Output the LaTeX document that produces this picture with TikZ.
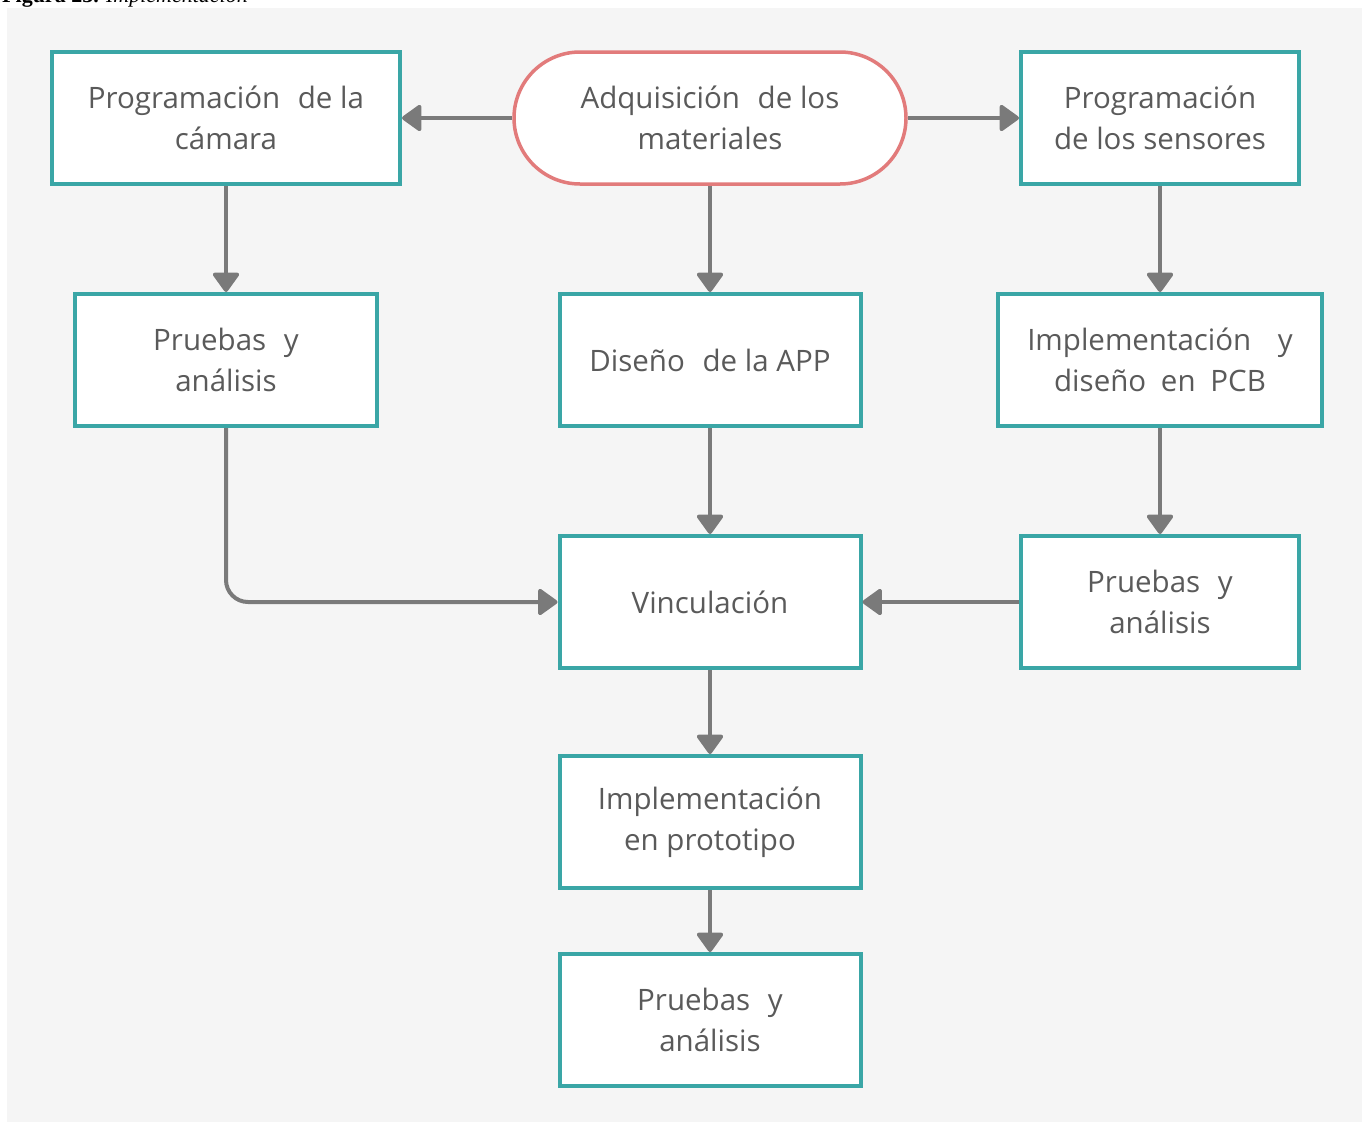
\documentclass[tikz,border=0pt]{standalone}
\usepackage{fontspec}
\setmainfont{Open Sans}
\newfontfamily\capfont{Liberation Serif}
\usetikzlibrary{arrows.meta,positioning,calc}
\definecolor{bgcol}{HTML}{F5F5F5}
\definecolor{teal}{HTML}{3AA6A6}
\definecolor{salmon}{HTML}{E27B7B}
\definecolor{arrowcol}{HTML}{7A7A7A}
\definecolor{txtcol}{HTML}{5A5A5A}
\tikzset{
  stepbox/.style={draw=teal, line width=4pt, fill=white, rectangle,
    minimum height=132pt, align=center, text=txtcol,
    font=\fontsize{29.5}{41}\selectfont, inner sep=0pt},
  startbox/.style={draw=salmon, line width=3.5pt, fill=white, rounded corners=66pt,
    minimum width=392pt, minimum height=132pt, align=center, text=txtcol,
    font=\fontsize{29.5}{41}\selectfont, inner sep=0pt},
  flow/.style={draw=arrowcol, line width=4pt,
    -{Triangle[length=21pt,width=29pt,round]}},
}
\begin{document}
\begin{tikzpicture}[x=1pt,y=-1pt]
\useasboundingbox (0,0) rectangle (1369,1125);
\fill[bgcol] (7,8) rectangle (1362,1122);
\node[anchor=base west, font=\capfont\fontsize{22}{26}\selectfont, inner sep=0pt] (cap) at (2,2) {\textbf{Figura 23.} \textit{Implementación}};
% nodes
\node[stepbox, minimum width=348pt] (A) at (226,118) {Programación\hspace{0.6em}de la\\cámara};
\node[startbox] (B) at (710,118) {Adquisición\hspace{0.6em}de los\\materiales};
\node[stepbox, minimum width=278pt] (C) at (1160,118) {Programación\\de los sensores};
\node[stepbox, minimum width=302pt] (D) at (226,360) {Pruebas\hspace{0.6em}y\\análisis};
\node[stepbox, minimum width=301pt] (E) at (710,360) {Diseño\hspace{0.6em}de la APP};
\node[stepbox, minimum width=324pt] (F) at (1160,360) {Implementación\hspace{0.9em}y\\diseño\hspace{0.5em}en\hspace{0.5em}PCB};
\node[stepbox, minimum width=301pt] (G) at (710,602) {Vinculación};
\node[stepbox, minimum width=278pt] (H) at (1160,602) {Pruebas\hspace{0.6em}y\\análisis};
\node[stepbox, minimum width=301pt] (I) at (710,822) {Implementación\\en prototipo};
\node[stepbox, minimum width=301pt] (J) at (710,1020) {Pruebas\hspace{0.6em}y\\análisis};
% connectors
\draw[flow] (B.west) -- (A.east);
\draw[flow] (B.east) -- (C.west);
\draw[flow] (B.south) -- (E.north);
\draw[flow] (A.south) -- (D.north);
\draw[flow] (C.south) -- (F.north);
\draw[flow] (F.south) -- (H.north);
\draw[flow] (E.south) -- (G.north);
\draw[flow] (G.south) -- (I.north);
\draw[flow] (I.south) -- (J.north);
\draw[flow] (H.west) -- (G.east);
\draw[flow, rounded corners=22pt] (D.south) |- (G.west);
\end{tikzpicture}
\end{document}
